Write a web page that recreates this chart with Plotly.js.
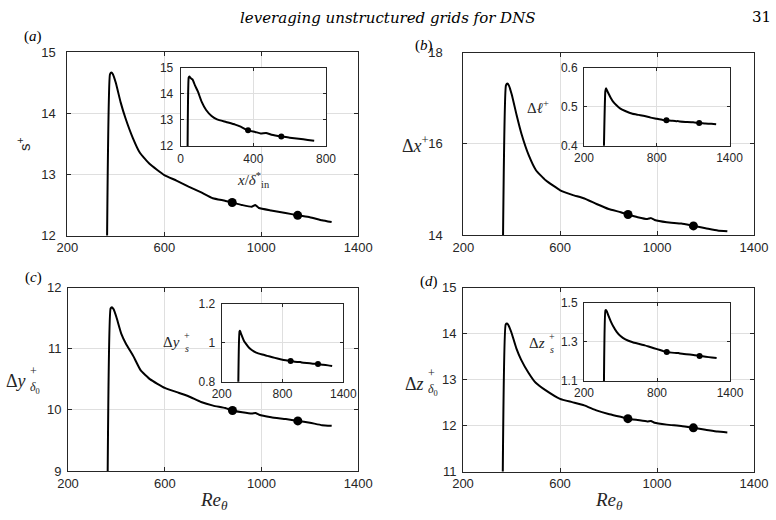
<!DOCTYPE html>
<html>
<head>
<meta charset="utf-8">
<script src="https://cdn.plot.ly/plotly-3.0.1.min.js"></script>
<style>html,body{margin:0;padding:0;background:#fff;}#chart{width:776px;height:520px;}</style>
</head>
<body>
<div id="chart"></div>
<script>
// ---- data ----
var reTheta = [364, 376, 382, 388, 400, 420, 440, 470, 500, 540, 600, 650, 700, 750, 800, 850, 880, 920, 960, 975, 990, 1040, 1100, 1150, 1200, 1250, 1290];
var sPlus   = [11.95, 14.64, 14.67, 14.64, 14.5, 14.18, 13.92, 13.6, 13.35, 13.17, 12.99, 12.9, 12.8, 12.71, 12.61, 12.57, 12.54, 12.5, 12.47, 12.5, 12.45, 12.41, 12.37, 12.33, 12.3, 12.25, 12.22];
var dxPlus  = [13.95, 17.28, 17.32, 17.28, 17.08, 16.63, 16.22, 15.75, 15.42, 15.2, 14.98, 14.88, 14.8, 14.68, 14.57, 14.5, 14.45, 14.39, 14.35, 14.37, 14.33, 14.28, 14.25, 14.2, 14.15, 14.1, 14.08];
var dyPlus  = [8.95, 11.66, 11.68, 11.65, 11.52, 11.25, 11.08, 10.88, 10.65, 10.5, 10.36, 10.29, 10.22, 10.13, 10.07, 10.03, 9.99, 9.96, 9.94, 9.95, 9.92, 9.88, 9.85, 9.82, 9.79, 9.75, 9.74];
var dzPlus  = [10.95, 14.2, 14.22, 14.18, 14.02, 13.68, 13.43, 13.15, 12.93, 12.77, 12.58, 12.51, 12.44, 12.33, 12.25, 12.19, 12.15, 12.12, 12.09, 12.1, 12.06, 12.02, 11.99, 11.95, 11.91, 11.87, 11.85];
// insets
var xDelta  = [38, 44, 48, 55, 65, 80, 95, 115, 140, 170, 200, 250, 300, 330, 371, 410, 440, 470, 500, 554, 600, 650, 700, 735];
var sInset  = [11.95, 14.62, 14.66, 14.6, 14.55, 14.3, 14.08, 13.7, 13.38, 13.15, 13.02, 12.92, 12.82, 12.74, 12.6, 12.54, 12.48, 12.5, 12.43, 12.36, 12.32, 12.28, 12.23, 12.2];
var dlPlus  = [0.39, 0.54, 0.547, 0.543, 0.535, 0.523, 0.513, 0.503, 0.495, 0.489, 0.482, 0.479, 0.476, 0.472, 0.469, 0.466, 0.465, 0.464, 0.463, 0.463, 0.462, 0.461, 0.46, 0.458, 0.457, 0.456, 0.455];
var dysPlus = [0.79, 1.06, 1.062, 1.05, 1.035, 1.01, 0.995, 0.975, 0.962, 0.95, 0.94, 0.933, 0.926, 0.919, 0.913, 0.909, 0.906, 0.903, 0.901, 0.901, 0.899, 0.896, 0.893, 0.891, 0.887, 0.884, 0.881];
var dzsPlus = [1.09, 1.46, 1.462, 1.455, 1.435, 1.405, 1.38, 1.35, 1.33, 1.313, 1.298, 1.29, 1.282, 1.272, 1.263, 1.253, 1.248, 1.245, 1.243, 1.243, 1.241, 1.237, 1.233, 1.228, 1.224, 1.22, 1.217];
// marked stations
var dotRe = [880, 1150];
var dotXDelta = [371, 554];
// tick labels
var reTicks = [200, 600, 1000, 1400];
var reInsetTicks = [200, 800, 1400];
var xDeltaTicks = [0, 400, 800];

// ---- layout helpers ----
var W = 776, H = 520;
var INK = '#262626';
function dx(a, b) { return [a / W, b / W]; }
function dy(top, bot) { return [1 - bot / H, 1 - top / H]; }
function axis(range, tickvals, domain, anchor, extra) {
  var o = {
    range: range, tickvals: tickvals, domain: domain, anchor: anchor,
    showgrid: true, gridcolor: '#dfdfdf', gridwidth: 1,
    showline: true, linecolor: INK, linewidth: 1, mirror: 'ticks',
    ticks: 'inside', ticklen: 4, tickwidth: 1, tickcolor: INK,
    tickfont: { family: 'Liberation Sans, Arial, sans-serif', size: 13, color: INK },
    zeroline: false, fixedrange: true, automargin: false
  };
  for (var k in extra) o[k] = extra[k];
  return o;
}
function pick(xs, ys, keys) {
  return keys.map(function (k) { return ys[xs.indexOf(k)]; });
}
function pair(x, y, xa, ya, dots, lw, ms) {
  return [
    { type: 'scatter', mode: 'lines', x: x, y: y, xaxis: xa, yaxis: ya,
      line: { color: '#000', width: lw, shape: 'spline', smoothing: 0.4 }, hoverinfo: 'skip' },
    { type: 'scatter', mode: 'markers', x: dots, y: pick(x, y, dots), xaxis: xa, yaxis: ya,
      marker: { color: '#000', size: ms }, hoverinfo: 'skip' }
  ];
}

var data = [].concat(
  pair(reTheta, sPlus, 'x', 'y', dotRe, 2, 9),
  pair(reTheta, dxPlus, 'x2', 'y2', dotRe, 2, 9),
  pair(reTheta, dyPlus, 'x3', 'y3', dotRe, 2, 9),
  pair(reTheta, dzPlus, 'x4', 'y4', dotRe, 2, 9),
  pair(xDelta, sInset, 'x5', 'y5', dotXDelta, 2, 6),
  pair(reTheta, dlPlus, 'x6', 'y6', dotRe, 2, 6),
  pair(reTheta, dysPlus, 'x7', 'y7', dotRe, 2, 6),
  pair(reTheta, dzsPlus, 'x8', 'y8', dotRe, 2, 6)
);

var small = { tickfont: { family: 'Liberation Sans, Arial, sans-serif', size: 12, color: INK }, ticklen: 3 };
function merge(a, b) { var o = {}; for (var k in a) o[k] = a[k]; for (var j in b) o[j] = b[j]; return o; }

var layout = {
  width: W, height: H,
  margin: { l: 0, r: 0, t: 0, b: 0 },
  paper_bgcolor: '#fff', plot_bgcolor: '#fff',
  showlegend: false,
  xaxis:  axis([200, 1400], reTicks, dx(67.3, 358.3), 'y',  { ticklabelstandoff: 0 }),
  yaxis:  axis([12, 15], [12, 13, 14, 15], dy(52.3, 235.5), 'x', { ticklabelstandoff: 8 }),
  xaxis2: axis([200, 1400], reTicks, dx(463.3, 754), 'y2', { ticklabelstandoff: 0 }),
  yaxis2: axis([14, 18], [14, 16, 18], dy(52.5, 235), 'x2', { ticklabelstandoff: 17 }),
  xaxis3: axis([200, 1400], reTicks, dx(68, 358.3), 'y3', { ticklabelstandoff: 0 }),
  yaxis3: axis([9, 12], [9, 10, 11, 12], dy(287.7, 471), 'x3', { ticklabelstandoff: 3 }),
  xaxis4: axis([200, 1400], reTicks, dx(463, 754), 'y4', { ticklabelstandoff: 0 }),
  yaxis4: axis([11, 15], [11, 12, 13, 14, 15], dy(287.7, 471.5), 'x4', { ticklabelstandoff: 3 }),
  xaxis5: axis([0, 800], xDeltaTicks, dx(180.7, 326), 'y5', merge(small, { ticklabelstandoff: 2 })),
  yaxis5: axis([12, 15], [12, 13, 14, 15], dy(67.7, 146), 'x5', merge(small, { ticklabelstandoff: 4 })),
  xaxis6: axis([200, 1400], reInsetTicks, dx(584, 729.5), 'y6', merge(small, { ticklabelstandoff: 1 })),
  yaxis6: axis([0.4, 0.6], [0.4, 0.5, 0.6], dy(67.7, 145.7), 'x6', merge(small, { ticklabelstandoff: 3, ticktext: ['0.4', '0.5', '0.6'] })),
  xaxis7: axis([200, 1400], reInsetTicks, dx(221.7, 343.3), 'y7', merge(small, { ticklabelstandoff: 1 })),
  yaxis7: axis([0.8, 1.2], [0.8, 1, 1.2], dy(304, 381.7), 'x7', merge(small, { ticklabelstandoff: 3, ticktext: ['0.8', '1', '1.2'] })),
  xaxis8: axis([200, 1400], reInsetTicks, dx(584, 730), 'y8', merge(small, { ticklabelstandoff: 1 })),
  yaxis8: axis([1.1, 1.5], [1.1, 1.3, 1.5], dy(302.7, 381), 'x8', merge(small, { ticklabelstandoff: 3, ticktext: ['1.1', '1.3', '1.5'] })),
  annotations: []
};

var SERIF = 'DejaVu Serif, serif';
var TIMES = 'Liberation Serif, serif';
function ann(text, px, py, opt) {
  var a = { text: text, xref: 'paper', yref: 'paper', x: px / W, y: 1 - py / H,
    xanchor: 'center', yanchor: 'middle', showarrow: false,
    font: { family: TIMES, size: 15, color: '#000' } };
  for (var k in opt) a[k] = opt[k];
  layout.annotations.push(a);
}
function f(fam, size, color) { return { family: fam, size: size, color: color || INK }; }

ann('<i>leveraging unstructured grids for DNS</i>', 388, 18, { font: f(SERIF, 15, '#000') });
ann('31', 773, 17, { xanchor: 'right', font: f(SERIF, 15, '#000') });
ann('(<i>a</i>)', 33, 37, { font: f(TIMES, 15, '#000') });
ann('(<i>b</i>)', 424, 45, { font: f(TIMES, 15, '#000') });
ann('(<i>c</i>)', 33, 277, { font: f(TIMES, 15, '#000') });
ann('(<i>d</i>)', 429, 281, { font: f(TIMES, 15, '#000') });
ann('s<sup>+</sup>', 23, 144, { textangle: -90, font: f('Liberation Sans, Arial, sans-serif', 15) });
ann('Δ<i>x</i><sup>+</sup>', 431, 144, { xanchor: 'right', font: f(TIMES, 18) });
// Δy+_δ0 (stacked super/subscript)
ann('Δ<i>y</i>', 28, 381, { xanchor: 'right', font: f(TIMES, 18) });
ann('+', 28, 371, { xanchor: 'left', font: f(TIMES, 12) });
ann('<i>δ</i><sub>0</sub>', 28, 388, { xanchor: 'left', font: f(TIMES, 12) });
// Δz+_δ0
ann('Δ<i>z</i>', 426, 384, { xanchor: 'right', font: f(TIMES, 18) });
ann('+', 426, 373, { xanchor: 'left', font: f(TIMES, 12) });
ann('<i>δ</i><sub>0</sub>', 426, 390, { xanchor: 'left', font: f(TIMES, 12) });
ann('<i>Re</i><sub><i>θ</i></sub>', 214, 501, { font: f(TIMES, 19) });
ann('<i>Re</i><sub><i>θ</i></sub>', 609, 501, { font: f(TIMES, 19) });
ann('<i>x</i>/<i>δ</i><sup>*</sup><sub>in</sub>', 253, 180, { font: f(TIMES, 15) });
ann('Δ<i>ℓ</i><sup>+</sup>', 551, 107, { xanchor: 'right', font: f(TIMES, 15) });
// Δy+_s
ann('Δ<i>y</i>', 182, 342, { xanchor: 'right', font: f(TIMES, 15) });
ann('+', 182, 335, { xanchor: 'left', font: f(TIMES, 10) });
ann('<i>s</i>', 182.5, 348, { xanchor: 'left', font: f(TIMES, 10) });
// Δz+_s
ann('Δ<i>z</i>', 547, 343, { xanchor: 'right', font: f(TIMES, 15) });
ann('+', 547, 336, { xanchor: 'left', font: f(TIMES, 10) });
ann('<i>s</i>', 547.5, 349, { xanchor: 'left', font: f(TIMES, 10) });

Plotly.newPlot('chart', data, layout, { staticPlot: true, displayModeBar: false });
</script>
</body>
</html>
